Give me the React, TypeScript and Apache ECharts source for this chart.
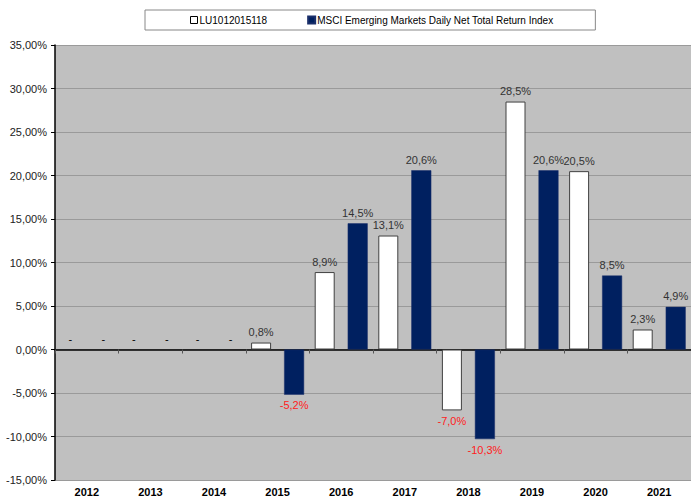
import React, { useEffect, useRef } from "react";
import * as echarts from "echarts";

const years = ["2012", "2013", "2014", "2015", "2016", "2017", "2018", "2019", "2020", "2021"];
const fundName = "LU1012015118";
const indexName = "MSCI Emerging Markets Daily Net Total Return Index";
const fundValues: (number | null)[] = [null, null, null, 0.8, 8.9, 13.1, -7.0, 28.5, 20.5, 2.3];
const indexValues: (number | null)[] = [null, null, null, -5.2, 14.5, 20.6, -10.3, 20.6, 8.5, 4.9];

const FONT = "Liberation Sans, Arial, sans-serif";

function fmt(v: number) {
  return v.toFixed(1).replace(".", ",") + "%";
}

function buildData(values: (number | null)[]) {
  return values.map((v) => {
    if (v === null) {
      return {
        value: 0,
        itemStyle: { color: "transparent", borderWidth: 0 },
        label: { position: "top", formatter: "-", color: "#000" },
      };
    }
    return {
      value: v,
      label: {
        position: v < 0 ? "bottom" : "top",
        color: v < 0 ? "#ff2020" : "#333333",
        formatter: fmt(v),
      },
    };
  });
}

export default function App() {
  const ref = useRef<HTMLDivElement>(null);
  useEffect(() => {
    document.body.style.margin = "0";
    const chart = echarts.init(ref.current!, null, { renderer: "svg" });
    chart.setOption({
      animation: false,
      backgroundColor: "#ffffff",
      textStyle: { fontFamily: FONT },
      legend: {
        data: [
          { name: fundName, itemStyle: { color: "#ffffff", borderColor: "#000", borderWidth: 1 } },
          { name: indexName },
        ],
        left: 145,
        top: 10,
        padding: [5, 42, 5, 45],
        borderColor: "#888",
        borderWidth: 1,
        itemWidth: 7,
        itemHeight: 7,
        itemGap: 40,
        icon: "rect",
        textStyle: { fontSize: 10, color: "#000", fontFamily: FONT, padding: [0, 0, 0, -3] },
      },
      grid: {
        left: 55,
        right: 0,
        top: 45,
        bottom: 18,
        show: true,
        backgroundColor: "#c0c0c0",
        borderWidth: 0,
      },
      xAxis: [
        {
          type: "category",
          data: years,
          position: "bottom",
          axisLine: { show: false, onZero: false },
          axisTick: { show: false },
          axisLabel: { fontSize: 11, fontWeight: "bold", color: "#000", margin: 6, fontFamily: FONT },
        },
        {
          type: "category",
          data: years,
          position: "bottom",
          axisLine: { show: true, onZero: true, lineStyle: { color: "#000", width: 1.5 } },
          axisTick: { show: true, length: 4, lineStyle: { color: "#555" } },
          axisLabel: { show: false },
        },
      ],
      yAxis: {
        type: "value",
        min: -15,
        max: 35,
        interval: 5,
        axisLine: { show: true, lineStyle: { color: "#000", width: 1.5 } },
        axisTick: { show: true, length: 4, lineStyle: { color: "#000" } },
        splitLine: { show: true, lineStyle: { color: "#9a9a9a", width: 1 } },
        axisLabel: {
          fontSize: 11,
          color: "#222",
          margin: 8,
          fontFamily: FONT,
          formatter: (v: number) => v.toFixed(2).replace(".", ",") + "%",
        },
      },
      series: [
        {
          name: fundName,
          type: "bar",
          xAxisIndex: 0,
          barWidth: 20,
          barGap: "65%",
          itemStyle: { color: "#ffffff", borderColor: "#404040", borderWidth: 1 },
          label: { show: true, fontSize: 11, distance: 5, fontFamily: FONT },
          data: buildData(fundValues),
        },
        {
          name: indexName,
          type: "bar",
          xAxisIndex: 0,
          barWidth: 20,
          barGap: "65%",
          itemStyle: { color: "#002060", borderColor: "#1a2f6a", borderWidth: 0.5 },
          label: { show: true, fontSize: 11, distance: 5, fontFamily: FONT },
          data: buildData(indexValues),
        },
      ],
    });
    return () => chart.dispose();
  }, []);
  return <div ref={ref} style={{ width: 691, height: 498 }} />;
}
